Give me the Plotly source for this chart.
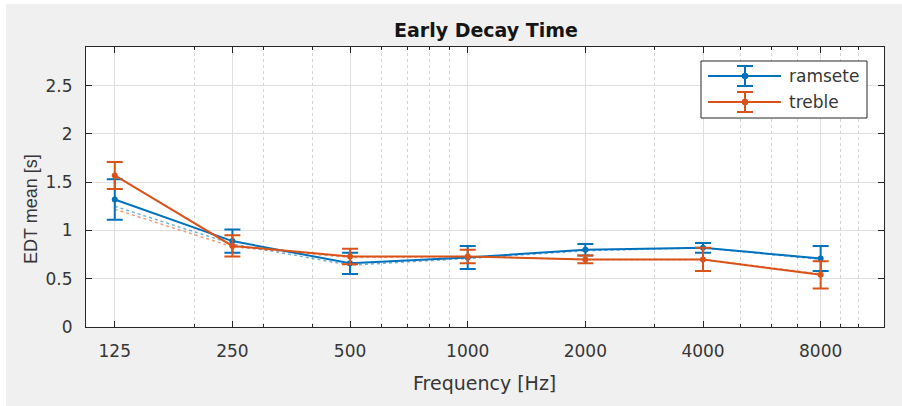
import plotly.graph_objects as go

# Octave-band centre frequencies (Hz)
freqs = [125, 250, 500, 1000, 2000, 4000, 8000]
freq_labels = ["125", "250", "500", "1000", "2000", "4000", "8000"]

# Mean early decay time (s) and its standard deviation per band
ramsete_mean = [1.32, 0.89, 0.66, 0.72, 0.80, 0.82, 0.71]
ramsete_sd = [0.21, 0.12, 0.11, 0.12, 0.06, 0.05, 0.13]
treble_mean = [1.57, 0.84, 0.73, 0.73, 0.70, 0.70, 0.54]
treble_sd = [0.14, 0.11, 0.08, 0.07, 0.04, 0.12, 0.14]

# Secondary (dotted) curves per model
ramsete_alt = [1.25, 0.86, 0.64, 0.71, 0.79, 0.82, 0.70]
treble_alt = [1.22, 0.83, 0.72, 0.73, 0.70, 0.70, 0.55]

series_names = ["ramsete", "treble"]
y_ticks = [0, 0.5, 1, 1.5, 2, 2.5]
y_labels = ["0", "0.5", "1", "1.5", "2", "2.5"]
minor_freqs = [200, 300, 400, 600, 700, 800, 900, 3000, 5000, 6000, 7000, 9000, 10000]

BLUE = "#0072BD"
ORANGE = "#D95319"
AXIS = "#262626"
TEXT = "#363636"
FONT = "DejaVu Sans"

fig = go.Figure()

for alt, color in ((ramsete_alt, BLUE), (treble_alt, ORANGE)):
    fig.add_trace(go.Scatter(
        x=freqs, y=alt, mode="lines", showlegend=False, hoverinfo="skip",
        line=dict(color=color, width=1.5, dash="dot"), opacity=0.55,
    ))

for name, mean, sd, color in ((series_names[0], ramsete_mean, ramsete_sd, BLUE),
                              (series_names[1], treble_mean, treble_sd, ORANGE)):
    fig.add_trace(go.Scatter(
        x=freqs, y=mean, name=name, mode="lines+markers", showlegend=False,
        line=dict(color=color, width=2),
        marker=dict(color=color, size=6),
        error_y=dict(type="data", array=sd, visible=True,
                     color=color, thickness=2, width=8),
    ))

L, R, T, B = 86, 18, 47, 79
W, H = 902, 406
pw, ph = W - L - R, H - T - B


def px_x(px):
    return (px - L) / pw


def px_y(py):
    return 1 - (py - T) / ph


def paper_shape(kind, x0, y0, x1, y1, **style):
    return dict(type=kind, xref="paper", yref="paper",
                x0=px_x(x0), x1=px_x(x1), y0=px_y(y0), y1=px_y(y1), **style)


# Background frame: thin white edge on the left and top of the grey canvas
shapes = [
    paper_shape("rect", 0, 0, 6, H, layer="below", fillcolor="white", line=dict(width=0)),
    paper_shape("rect", 0, 0, W, 4, layer="below", fillcolor="white", line=dict(width=0)),
]

# Legend box with line / marker / error-bar glyphs
annotations = []
shapes.append(paper_shape("rect", 701, 61, 867, 118, layer="above",
                          fillcolor="white", line=dict(color=AXIS, width=1)))
for row_y, name, color in ((76, series_names[0], BLUE), (102, series_names[1], ORANGE)):
    ln = dict(color=color, width=2)
    shapes += [
        paper_shape("line", 708, row_y, 781, row_y, layer="above", line=ln),
        paper_shape("line", 745, row_y - 10, 745, row_y + 10, layer="above", line=ln),
        paper_shape("line", 737, row_y - 10, 753, row_y - 10, layer="above", line=ln),
        paper_shape("line", 737, row_y + 10, 753, row_y + 10, layer="above", line=ln),
        paper_shape("circle", 742, row_y - 3, 748, row_y + 3, layer="above",
                    fillcolor=color, line=dict(color=color, width=1)),
    ]
    annotations.append(dict(text=name, xref="paper", yref="paper",
                            x=px_x(787), y=px_y(row_y), xanchor="left", yanchor="middle",
                            showarrow=False, font=dict(family=FONT, size=17, color=TEXT)))

annotations += [
    dict(text="Frequency [Hz]", xref="paper", yref="paper",
         x=px_x(484), y=px_y(383), xanchor="center", yanchor="middle",
         showarrow=False, font=dict(family=FONT, size=19, color=TEXT)),
    dict(text="EDT mean [s]", xref="paper", yref="paper",
         x=px_x(31), y=px_y(209), xanchor="center", yanchor="middle",
         textangle=-90, showarrow=False,
         font=dict(family="Liberation Sans", size=18, color=TEXT)),
]

fig.update_layout(
    width=W, height=H,
    margin=dict(l=L, r=R, t=T, b=B, pad=0),
    paper_bgcolor="#f0f0f0",
    plot_bgcolor="white",
    font=dict(family=FONT, color=TEXT, size=17),
    title=dict(text="<b>Early Decay Time</b>", x=px_x(486), xref="paper",
               xanchor="center", y=1 - 30 / H, yanchor="middle",
               font=dict(family=FONT, size=19, color="#151515")),
    showlegend=False,
    shapes=shapes,
    annotations=annotations,
)

fig.update_xaxes(
    type="log", range=[2.0233, 4.0652],
    tickmode="array", tickvals=freqs, ticktext=freq_labels,
    ticks="inside", ticklen=6, tickcolor=AXIS, tickwidth=1,
    ticklabelstandoff=9,
    showgrid=True, gridcolor="#dedede", gridwidth=1,
    minor=dict(tickmode="array", tickvals=minor_freqs, ticks="inside",
               ticklen=3, tickcolor=AXIS, showgrid=True,
               gridcolor="#d2d2d2", griddash="dot", gridwidth=1),
    showline=True, linecolor=AXIS, linewidth=1, mirror="ticks",
    zeroline=False, tickfont=dict(family=FONT, size=17, color=TEXT),
)
fig.update_yaxes(
    range=[0, 2.9], tickmode="array", tickvals=y_ticks, ticktext=y_labels,
    ticks="inside", ticklen=6, tickcolor=AXIS, tickwidth=1,
    ticklabelstandoff=9,
    showgrid=True, gridcolor="#dedede", gridwidth=1,
    showline=True, linecolor=AXIS, linewidth=1, mirror="ticks",
    zeroline=False, tickfont=dict(family=FONT, size=17, color=TEXT),
)

fig.write_html("out.html")
